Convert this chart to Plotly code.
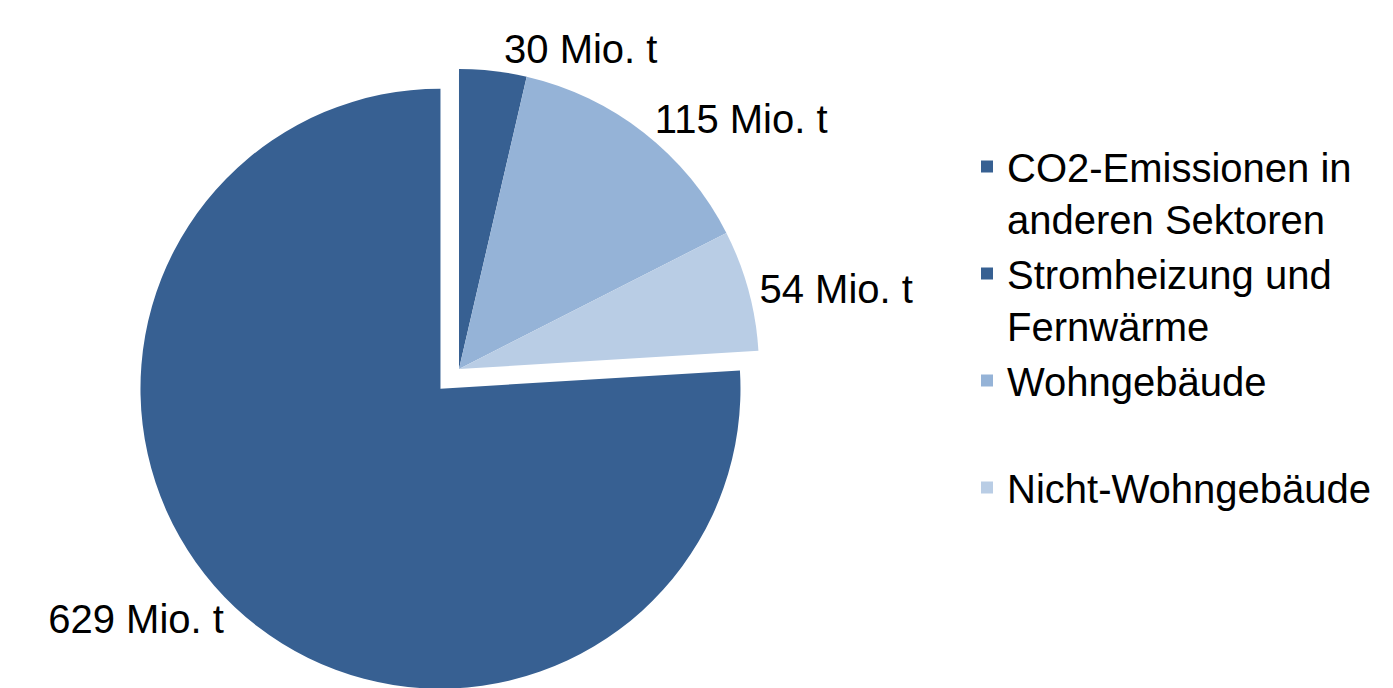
import plotly.graph_objects as go

labels = ["CO2-Emissionen in<br>anderen Sektoren", "Stromheizung und<br>Fernwärme", "Wohngebäude<br> ", "Nicht-Wohngebäude"]
values = [629, 30, 115, 54]
colors = ["#376092", "#376092", "#95B3D7", "#B9CDE5"]
pulls = [0.09, 0, 0, 0]

total = sum(values)
rotation = sum(values[1:]) / total * 360

FONT = "Liberation Sans, Arial, sans-serif"

fig = go.Figure(go.Pie(
    labels=labels,
    values=values,
    sort=False,
    direction="clockwise",
    rotation=rotation,
    pull=pulls,
    marker=dict(colors=colors, line=dict(width=0)),
    texttemplate="%{value} Mio. t",
    textposition="outside",
    textfont=dict(family=FONT, size=40, color="#000000"),
    domain=dict(x=[0.0366, 0.6109], y=[0.0, 0.9506]),
    hoverinfo="label+value",
))

fig.update_layout(
    width=1393, height=688,
    margin=dict(l=0, r=0, t=0, b=0, autoexpand=False),
    paper_bgcolor="white",
    plot_bgcolor="white",
    showlegend=True,
    legend=dict(
        x=959 / 1393, xanchor="left",
        y=1 - 126 / 688, yanchor="top",
        font=dict(family=FONT, size=40, color="#000000"),
        valign="top",
        bgcolor="rgba(0,0,0,0)",
        traceorder="normal",
    ),
)

fig.write_html("out.html")
